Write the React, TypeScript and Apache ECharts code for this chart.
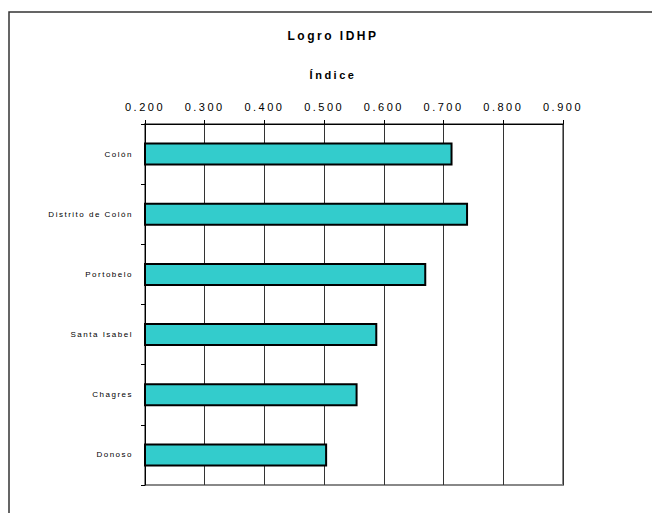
import React, { useEffect, useRef } from "react";
import * as echarts from "echarts";

const categories = ["Colón", "Distrito de Colón", "Portobelo", "Santa Isabel", "Chagres", "Donoso"];
const values = [0.715, 0.741, 0.671, 0.589, 0.556, 0.505];
const axisMin = 0.2;
const axisMax = 0.9;
const axisStep = 0.1;
const titleText = "Logro IDHP";
const axisTitle = "Índice";

const FONT = "'Liberation Sans', Arial, sans-serif";

export default function App() {
  const ref = useRef<HTMLDivElement>(null);
  useEffect(() => {
    document.body.style.margin = "0";
    const chart = echarts.init(ref.current!, null, { renderer: "svg" });
    chart.setOption({
      animation: false,
      backgroundColor: "#ffffff",
      textStyle: { fontFamily: FONT },
      title: [
        {
          text: titleText,
          left: 333,
          top: 30,
          padding: 0,
          textAlign: "center",
          textStyle: { fontSize: 12, fontWeight: "bold", color: "#000", fontFamily: FONT },
        },
        {
          text: axisTitle,
          left: 333,
          top: 69,
          padding: 0,
          textAlign: "center",
          textStyle: { fontSize: 11, fontWeight: "bold", color: "#000", fontFamily: FONT },
        },
      ],
      graphic: [
        {
          type: "rect",
          shape: { x: 9, y: 12, width: 800, height: 700 },
          style: { fill: "none", stroke: "#333", lineWidth: 1.5 },
          silent: true,
          z: 100,
        },
      ],
      grid: {
        left: 145,
        right: 89,
        top: 124,
        bottom: 28,
        show: true,
        borderColor: "#888",
        borderWidth: 2,
        backgroundColor: "transparent",
      },
      xAxis: {
        type: "value",
        position: "top",
        min: axisMin,
        max: axisMax,
        interval: axisStep,
        axisLine: { show: true, lineStyle: { color: "#000", width: 1 } },
        axisTick: { show: true, inside: false, length: 4, lineStyle: { color: "#000" } },
        axisLabel: {
          margin: 12,
          fontSize: 11,
          color: "#000",
          fontFamily: FONT,
          formatter: (v: number) => v.toFixed(3),
        },
        splitLine: { show: true, lineStyle: { color: "#333", width: 1 } },
      },
      yAxis: {
        type: "category",
        data: categories,
        inverse: true,
        axisLine: { show: true, lineStyle: { color: "#000", width: 1 } },
        axisTick: { show: true, length: 4, alignWithLabel: false, lineStyle: { color: "#000" } },
        axisLabel: { margin: 12, fontSize: 8, color: "#000", fontFamily: FONT },
        splitLine: { show: false },
      },
      series: [
        {
          type: "bar",
          data: values,
          barWidth: 23,
          itemStyle: { color: "#33CCCC", borderColor: "#000", borderWidth: 2 },
        },
      ],
    });
    return () => chart.dispose();
  }, []);
  return (
    <>
      <style>{`
        #chartbox svg text { letter-spacing: 2.5px; }
        #chartbox svg text[style*="8px"] { letter-spacing: 1.5px; }
        #chartbox svg text[style*="bold 12px"] { letter-spacing: 3px; }
        #chartbox svg text[style*="bold 11px"] { letter-spacing: 1px; }
      `}</style>
      <div id="chartbox" ref={ref} style={{ width: 652, height: 513 }} />
    </>
  );
}
